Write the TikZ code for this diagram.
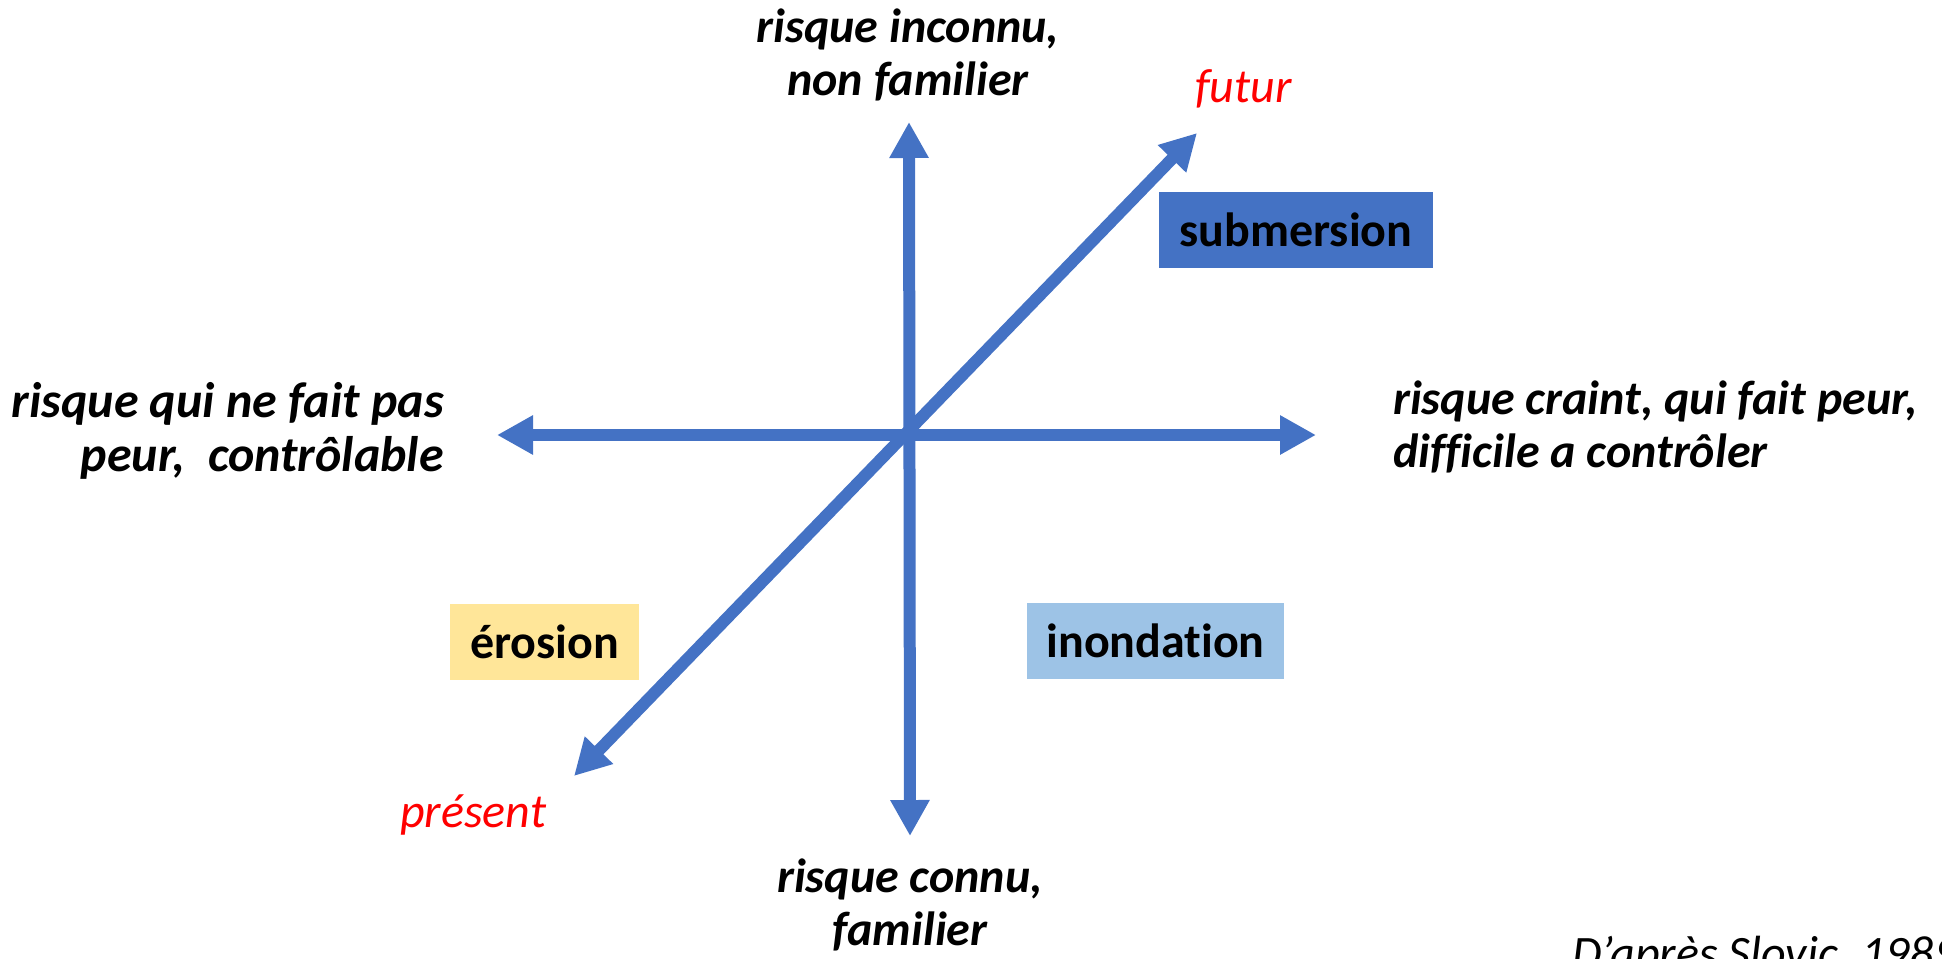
\documentclass[tikz,border=0pt]{standalone}
\usepackage{fontspec}
\setmainfont{Carlito}[RawFeature=-liga]
\usetikzlibrary{arrows.meta}
\definecolor{axisblue}{RGB}{68,114,196}
\definecolor{erosionfill}{RGB}{255,230,153}
\definecolor{inondfill}{RGB}{157,195,230}
\definecolor{redlabel}{RGB}{255,0,0}
\tikzset{
  axisline/.style={draw=axisblue, line width=12pt, {Triangle[length=36pt,width=37pt]}-{Triangle[length=36pt,width=37pt]}},
  poletext/.style={inner sep=0pt, font=\fontsize{48}{53}\selectfont\bfseries\itshape},
  timetext/.style={inner sep=0pt, text=redlabel, font=\fontsize{48}{53}\selectfont\itshape},
  riskbox/.style={inner sep=0pt, minimum height=76pt, font=\fontsize{48}{53}\selectfont\bfseries},
  sourcetext/.style={inner sep=0pt, font=\fontsize{48}{53}\selectfont\itshape}
}
\begin{document}
\begin{tikzpicture}[x=1pt,y=-1pt]
\useasboundingbox (0,0) rectangle (1942,958);
% axis end points
\coordinate (top) at (909,122);
\coordinate (bottom) at (910,836);
\coordinate (left) at (497,435);
\coordinate (right) at (1316,435);
\coordinate (future) at (1197,133);
\coordinate (present) at (574,776);
% axes
\draw[axisline] (left) -- (right);
\draw[axisline] (bottom) -- (top);
\draw[axisline] (present) -- (future);
% pole labels (base anchor = baseline of last line)
\node[poletext, align=center, anchor=base] (unknown) at (908,95) {risque inconnu,\\non familier};
\node[poletext, align=center, anchor=base] (known) at (910,945) {risque connu,\\familier};
\node[poletext, align=right, anchor=base east, font=\fontsize{50}{54}\selectfont\bfseries\itshape] (calm) at (444,471) {risque qui ne fait pas\\peur,\ \ contrôlable};
\node[poletext, align=left, anchor=base west] (dread) at (1393,467) {risque craint, qui fait peur,\\difficile a contrôler};
% time labels
\node[timetext, anchor=base west] (futur) at (1195,102) {futur};
\node[timetext, anchor=base west] (present label) at (400,827) {présent};
% risk boxes
\node[riskbox, fill=axisblue, minimum width=274pt] (submersion) at (1296,230) {submersion};
\node[riskbox, fill=erosionfill, minimum width=189pt] (erosion) at (544.5,642) {érosion};
\node[riskbox, fill=inondfill, minimum width=257pt] (inondation) at (1155.5,640.5) {inondation};
% source
\node[sourcetext, anchor=base west] (source) at (1572,969) {D’après Slovic, 1989};
\end{tikzpicture}
\end{document}
